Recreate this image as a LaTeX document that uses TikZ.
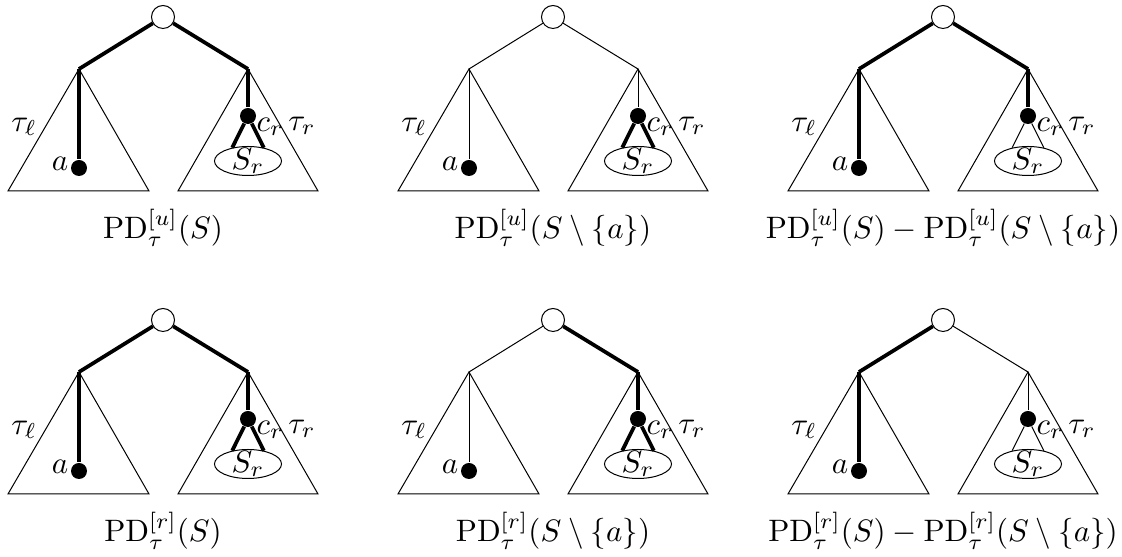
\documentclass[tikz,border=0pt]{standalone}
\usetikzlibrary{shapes.geometric}
\begin{document}
\begin{tikzpicture}[x=0.4pt,y=-0.4pt,
  thk/.style={line width=1.5pt},
  thn/.style={line width=0.4pt},
  tri/.style={draw,line width=0.4pt,line join=miter},
  rootnode/.style={circle,draw,fill=white,line width=0.4pt,minimum size=9.2pt,inner sep=0pt},
  dotnode/.style={circle,fill=black,minimum size=6.4pt,inner sep=0pt},
  setnode/.style={ellipse,draw,line width=0.4pt,minimum width=26.8pt,minimum height=11.6pt,inner sep=0pt},
  lbl/.style={inner sep=0pt,scale=1.24}]
\useasboundingbox (0,0) rectangle (1122,557);
\newcommand{\treepanel}[9]{%
\begin{scope}[shift={(#1,#2)},name prefix=#3-]
  \coordinate (L) at (79,69);
  \coordinate (Rc) at (248,69);
  \coordinate (Lb1) at (8,191);
  \coordinate (Lb2) at (149,191);
  \coordinate (Rb1) at (178,191);
  \coordinate (Rb2) at (318,191);
  \draw[tri] (L) -- (Lb1) -- (Lb2) -- cycle;
  \draw[tri] (Rc) -- (Rb1) -- (Rb2) -- cycle;
  \node[rootnode] (R) at (163,17) {};
  \node[dotnode] (a) at (79,168) {};
  \node[dotnode] (cr) at (248,116) {};
  \node[setnode] (Sr) at (248,161) {};
  \node[lbl] (Srl) at (248,161) {$S_r$};
  \draw[#5] (R) -- (L);
  \draw[#6] (R) -- (Rc);
  \draw[#7] (L) -- (a);
  \draw[#8] (Rc) -- (cr);
  \draw[#9] (cr) -- (Sr.140);
  \draw[#9] (cr) -- (Sr.40);
  \node[lbl] (tl) at (24,127) {$\tau_\ell$};
  \node[lbl] (tr) at (302,126) {$\tau_r$};
  \node[lbl,anchor=west] (crl) at (256,127) {$c_r$};
  \node[lbl,anchor=east] (al) at (69,164) {$a$};
  \node[lbl,anchor=base] (cap) at (163,239) {#4};
\end{scope}}
\treepanel{0}{0}{p1}{$\mathrm{PD}^{[u]}_{\tau}(S)$}{thk}{thk}{thk}{thk}{thk}
\treepanel{390}{0}{p2}{$\mathrm{PD}^{[u]}_{\tau}(S\setminus\{a\})$}{thn}{thn}{thn}{thn}{thk}
\treepanel{780}{0}{p3}{$\mathrm{PD}^{[u]}_{\tau}(S)-\mathrm{PD}^{[u]}_{\tau}(S\setminus\{a\})$}{thk}{thk}{thk}{thk}{thn}
\treepanel{0}{303}{p4}{$\mathrm{PD}^{[r]}_{\tau}(S)$}{thk}{thk}{thk}{thk}{thk}
\treepanel{390}{303}{p5}{$\mathrm{PD}^{[r]}_{\tau}(S\setminus\{a\})$}{thn}{thk}{thn}{thk}{thk}
\treepanel{780}{303}{p6}{$\mathrm{PD}^{[r]}_{\tau}(S)-\mathrm{PD}^{[r]}_{\tau}(S\setminus\{a\})$}{thk}{thn}{thk}{thn}{thn}
\end{tikzpicture}
\end{document}
